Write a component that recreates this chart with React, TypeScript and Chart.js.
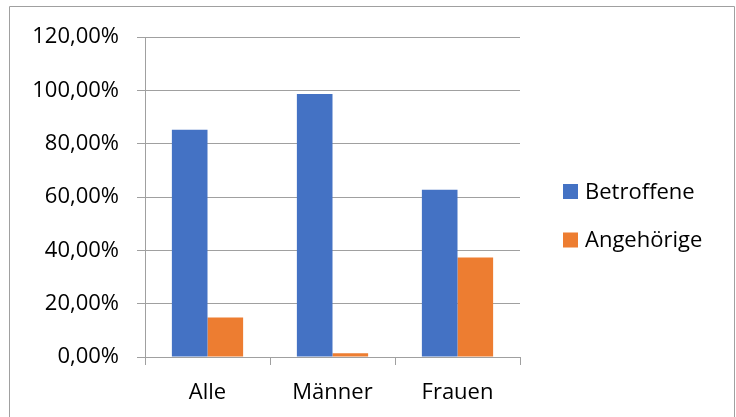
import React, { useEffect, useRef } from "react";
import { Chart, registerables } from "chart.js";

Chart.register(...registerables);

const categories = ["Alle", "Männer", "Frauen"];
const seriesNames = ["Betroffene", "Angehörige"];
const betroffene = [85.2, 98.6, 62.7];
const angehoerige = [14.8, 1.4, 37.3];
const seriesColors = ["#4472C4", "#ED7D31"];
const yTicks = [0, 20, 40, 60, 80, 100, 120];

const FONT = "'Open Sans', 'Liberation Sans', sans-serif";
const FONT_SIZE = 22;

const fmt = (v: number) => v.toFixed(2).replace(".", ",") + "%";

export default function App() {
  const ref = useRef<HTMLCanvasElement | null>(null);

  useEffect(() => {
    document.body.style.margin = "0";
    const canvas = ref.current;
    if (!canvas) return;

    const frame = {
      id: "frame",
      beforeDraw(chart: any) {
        const ctx = chart.ctx;
        ctx.save();
        ctx.fillStyle = "#ffffff";
        ctx.fillRect(0, 0, chart.width, chart.height);
        ctx.strokeStyle = "#a0a0a0";
        ctx.lineWidth = 1;
        ctx.beginPath();
        ctx.moveTo(9.5, chart.height + 2);
        ctx.lineTo(9.5, 6.5);
        ctx.lineTo(734.5, 6.5);
        ctx.lineTo(734.5, chart.height + 2);
        ctx.stroke();
        ctx.restore();
      },
      afterDraw(chart: any) {
        const ctx = chart.ctx;
        ctx.save();
        ctx.font = `${FONT_SIZE}px ${FONT}`;
        ctx.textBaseline = "middle";
        ctx.textAlign = "left";
        const ys = [191.5, 240];
        chart.data.datasets.forEach((ds: any, i: number) => {
          ctx.fillStyle = ds.backgroundColor;
          ctx.fillRect(563, ys[i] - 7.5, 15, 15);
          ctx.fillStyle = "#000000";
          ctx.fillText(ds.label, 585, ys[i] + 1);
        });
        ctx.restore();
      },
    };

    const chart = new Chart(canvas, {
      type: "bar",
      data: {
        labels: categories,
        datasets: [
          {
            label: seriesNames[0],
            data: betroffene,
            backgroundColor: seriesColors[0],
            categoryPercentage: 0.57,
            barPercentage: 1,
          },
          {
            label: seriesNames[1],
            data: angehoerige,
            backgroundColor: seriesColors[1],
            categoryPercentage: 0.57,
            barPercentage: 1,
          },
        ],
      },
      options: {
        animation: false,
        responsive: false,
        maintainAspectRatio: false,
        layout: { padding: { left: 0, top: 37, right: 216, bottom: 0 } },
        plugins: { legend: { display: false }, tooltip: { enabled: false } },
        scales: {
          x: {
            offset: true,
            grid: {
              offset: true,
              drawOnChartArea: false,
              drawTicks: true,
              tickLength: 8,
              color: "#a0a0a0",
            },
            border: { display: true, color: "#a0a0a0" },
            ticks: {
              color: "#000000",
              font: { family: FONT, size: FONT_SIZE },
              padding: 15,
              maxRotation: 0,
            },
            afterFit(scale: any) {
              scale.height = 60;
            },
          },
          y: {
            min: 0,
            max: 120,
            afterBuildTicks(scale: any) {
              scale.ticks = yTicks.map((v) => ({ value: v }));
            },
            grid: {
              color: "#a0a0a0",
              drawTicks: true,
              tickLength: 8,
            },
            border: { display: true, color: "#a0a0a0" },
            ticks: {
              color: "#000000",
              font: { family: FONT, size: FONT_SIZE },
              padding: 18,
              callback: (v: any) => fmt(Number(v)),
            },
            afterFit(scale: any) {
              scale.width = 145;
            },
          },
        },
      },
      plugins: [frame],
    });

    return () => chart.destroy();
  }, []);

  return (
    <div style={{ width: 736, height: 417 }}>
      <canvas ref={ref} width={736} height={417} style={{ display: "block" }} />
    </div>
  );
}
